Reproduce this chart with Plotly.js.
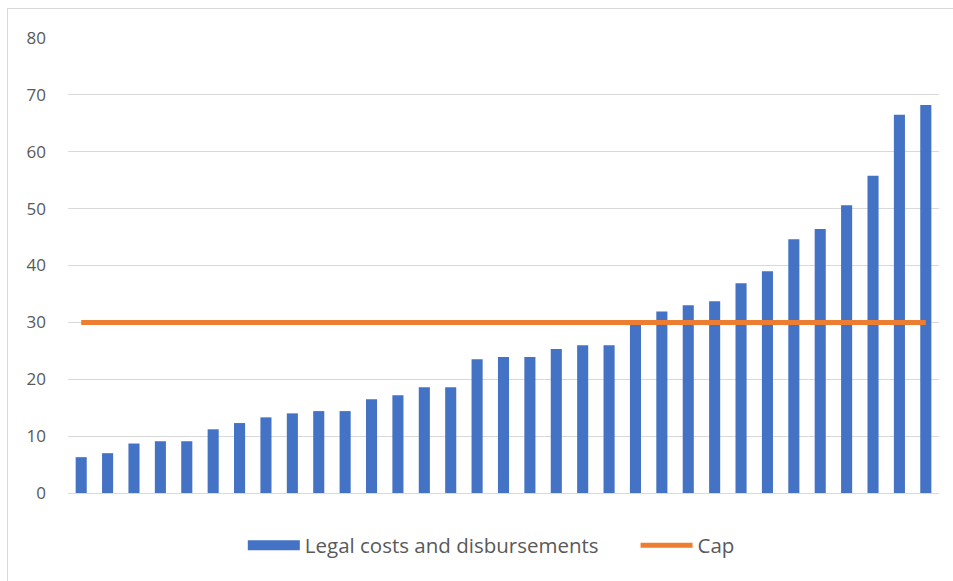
<!DOCTYPE html>
<html>
<head>
<meta charset="utf-8">
<script src="https://cdn.plot.ly/plotly-3.0.1.min.js"></script>
<style>
  html, body { margin: 0; padding: 0; background: #fff; }
  #wrap { position: relative; width: 953px; height: 581px; }
  #chart { position: absolute; left: 0; top: 0; width: 953px; height: 581px; }
  #frame { position: absolute; left: 7px; top: 8px; width: 960px; height: 600px;
           border-left: 1px solid #d9d9d9; border-top: 1px solid #d9d9d9; pointer-events: none; }
</style>
</head>
<body>
<div id="wrap">
  <div id="chart"></div>
  <div id="frame"></div>
</div>
<script>
// Data
const categories = Array.from({length: 33}, (_, i) => 'C' + (i + 1));
const legalCosts = [6.3, 7.0, 8.7, 9.1, 9.1, 11.2, 12.3, 13.3, 14.0, 14.4, 14.4,
                    16.5, 17.2, 18.6, 18.6, 23.5, 23.9, 23.9, 25.3, 26.0, 26.0,
                    30.0, 31.9, 33.0, 33.7, 36.9, 39.0, 44.6, 46.4, 50.6, 55.8,
                    66.5, 68.2];
const capValue = 30;
const capValues = categories.map(() => capValue);
const yTicks = [0, 10, 20, 30, 40, 50, 60, 70, 80];
const seriesNames = ['Legal costs and disbursements', 'Cap'];

const textColor = '#595959';
const fontFamily = '"Open Sans", Lato, sans-serif';
const barColor = '#4472C4';
const capColor = '#ED7D31';
const legendPad = '\u00a0'.repeat(6);

const traces = [
  {
    type: 'bar',
    name: seriesNames[0],
    x: categories,
    y: legalCosts,
    marker: { color: barColor, line: { width: 0 } },
    showlegend: false,
    legendrank: 1
  },
  {
    // legend-only entry so the legend swatch is a wide rectangle like the original
    type: 'scatter',
    mode: 'lines',
    name: seriesNames[0] + legendPad,
    x: [null],
    y: [null],
    line: { color: barColor, width: 14 },
    legendrank: 1
  },
  {
    type: 'scatter',
    mode: 'lines',
    name: seriesNames[1],
    x: categories,
    y: capValues,
    line: { color: capColor, width: 5 },
    legendrank: 2
  }
];

const layout = {
  width: 953,
  height: 581,
  margin: { l: 68, r: 14, t: 38, b: 88 },
  paper_bgcolor: '#ffffff',
  plot_bgcolor: '#ffffff',
  bargap: 0.58,
  showlegend: true,
  font: { family: fontFamily, size: 18, color: textColor },
  xaxis: {
    type: 'category',
    showticklabels: false,
    showgrid: false,
    zeroline: false,
    showline: false,
    ticks: ''
  },
  yaxis: {
    range: [0, 80],
    tickvals: yTicks,
    ticktext: yTicks.map(String),
    showgrid: true,
    gridcolor: '#d9d9d9',
    gridwidth: 1,
    zeroline: true,
    zerolinecolor: '#d9d9d9',
    zerolinewidth: 1,
    showline: false,
    ticks: '',
    ticklabelstandoff: 21,
    tickfont: { family: fontFamily, size: 17, color: textColor }
  },
  legend: {
    orientation: 'h',
    x: 0.486,
    xanchor: 'center',
    y: -0.115,
    yanchor: 'middle',
    font: { family: fontFamily, size: 20.5, color: textColor },
    itemwidth: 52
  }
};

Plotly.newPlot('chart', traces, layout, { displayModeBar: false, staticPlot: true });
</script>
</body>
</html>
